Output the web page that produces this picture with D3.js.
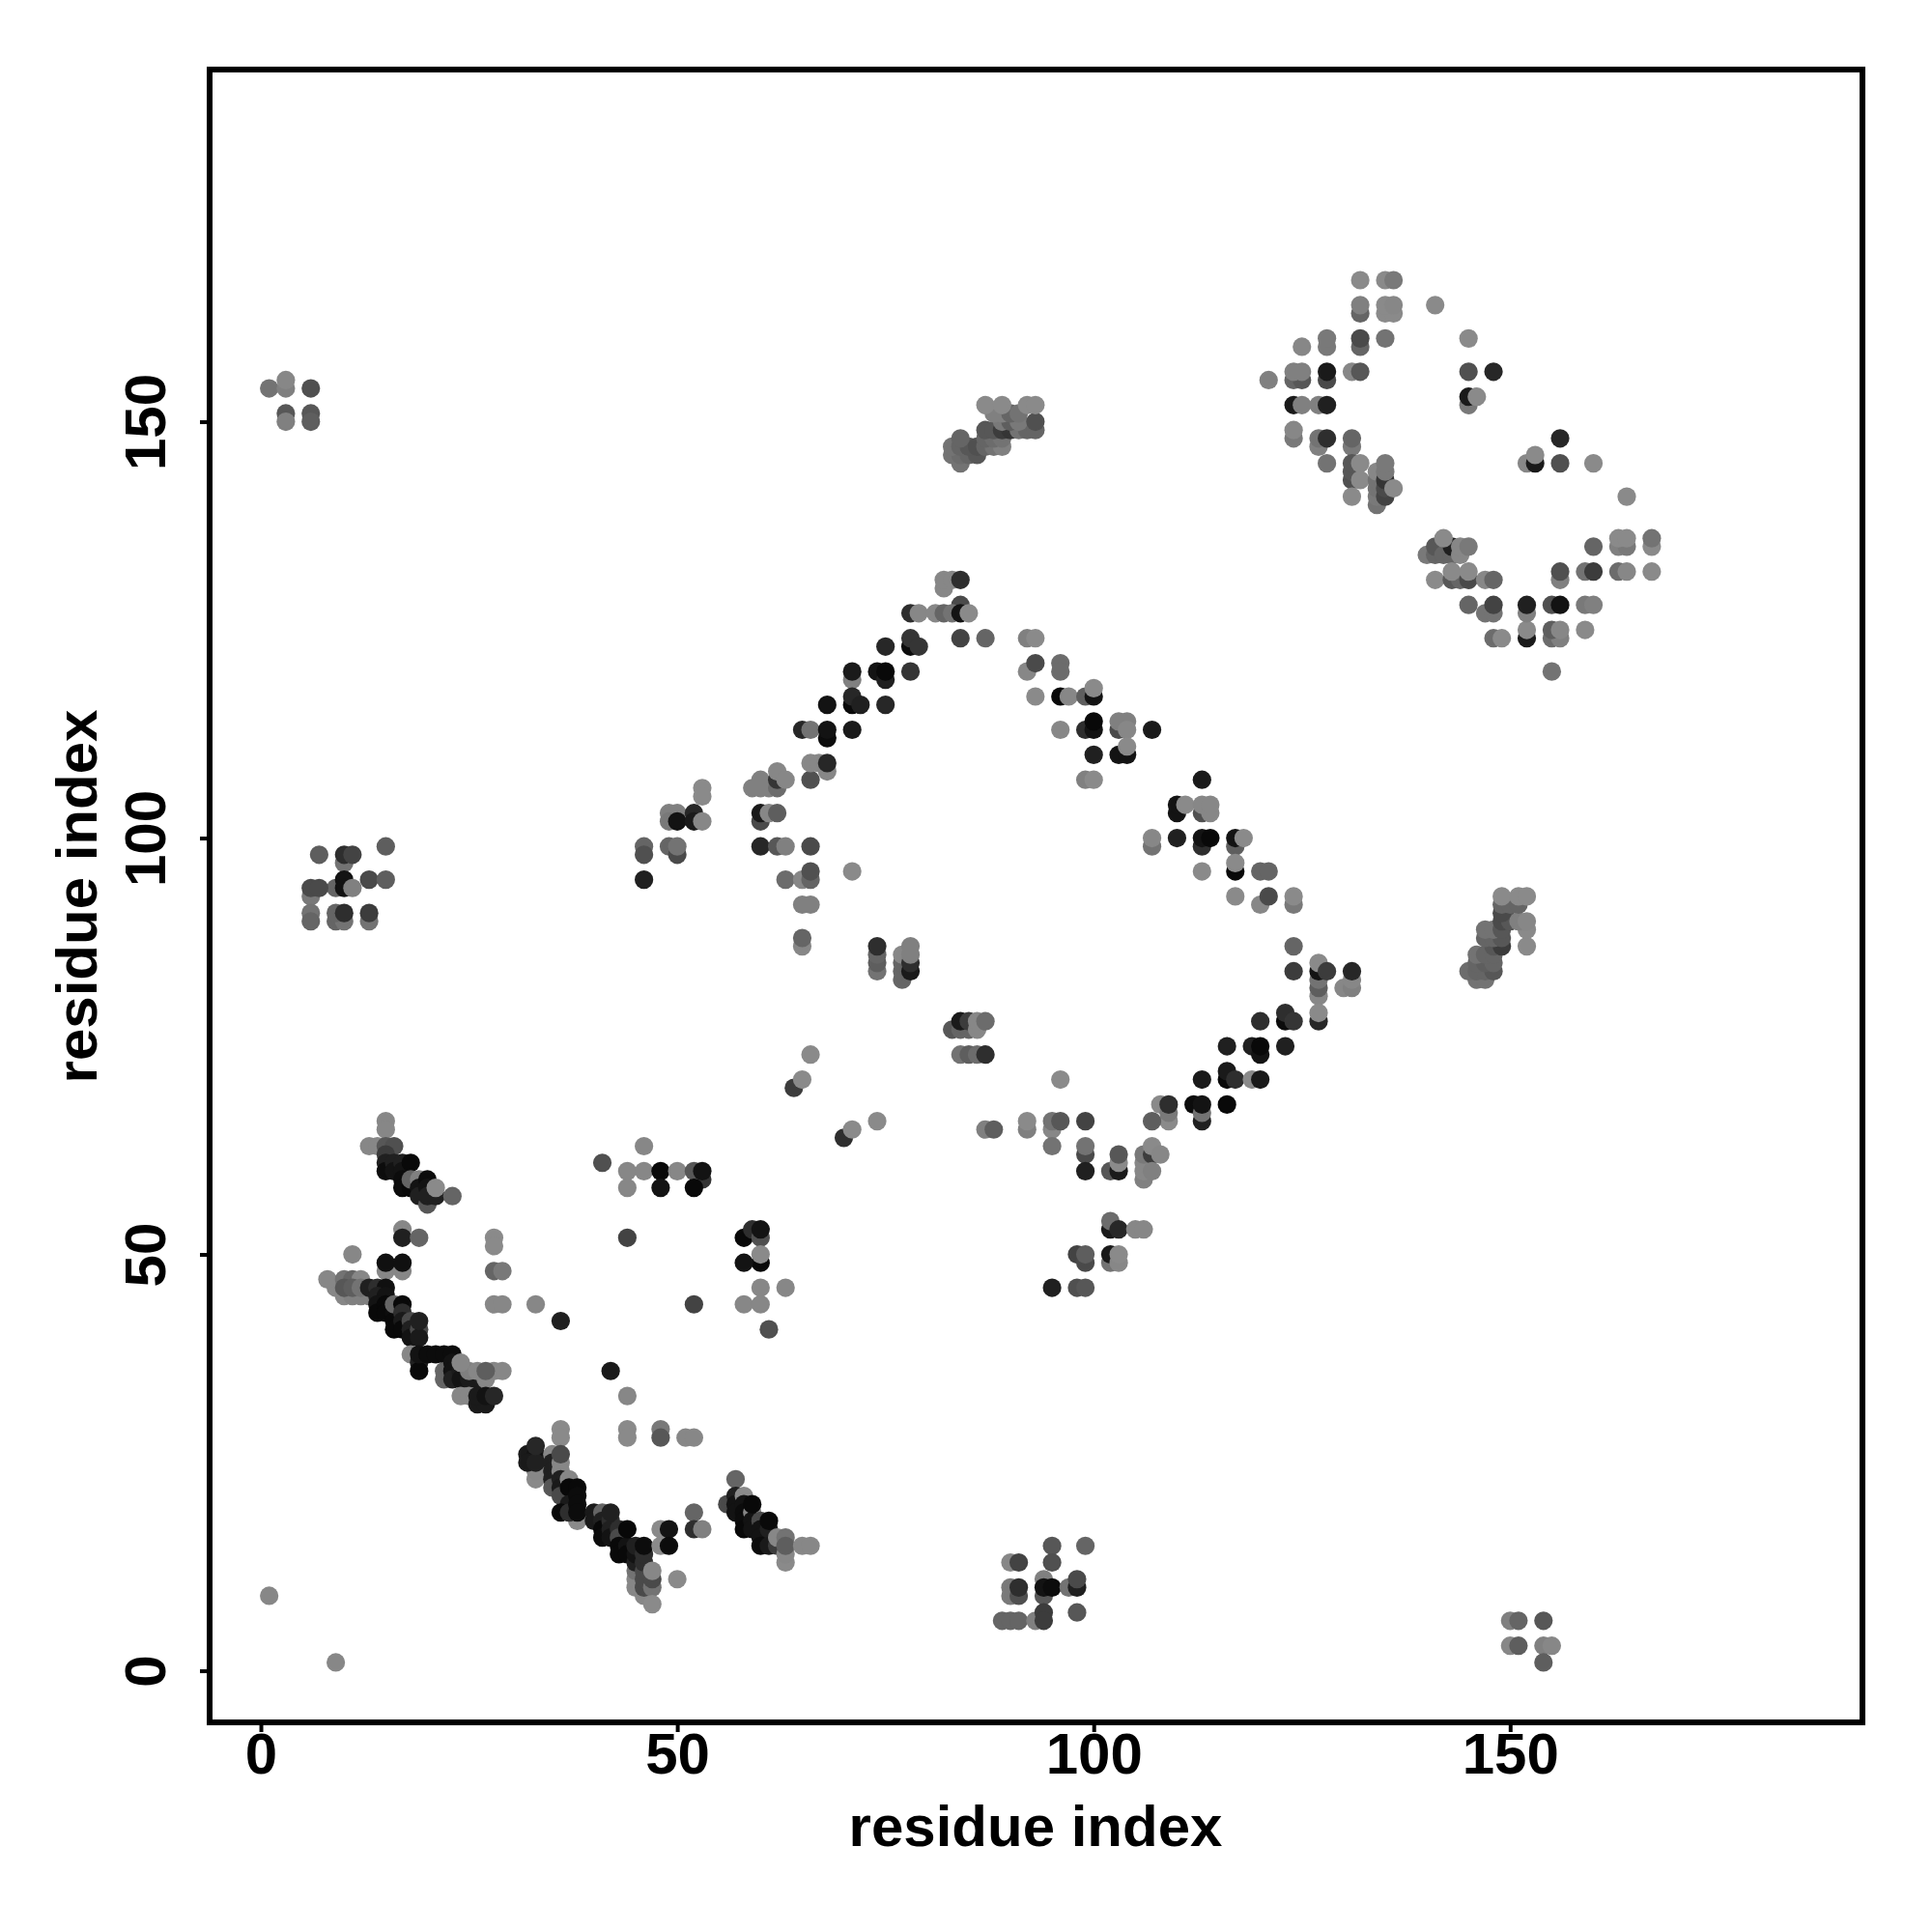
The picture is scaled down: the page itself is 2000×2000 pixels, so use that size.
<!DOCTYPE html>
<html><head><meta charset="utf-8">
<style>html,body{margin:0;padding:0;background:#fff}svg{display:block}text{font-family:"Liberation Sans",Arial,sans-serif;font-weight:bold;fill:#000}</style>
<script src="https://cdn.jsdelivr.net/npm/d3@7"></script>
</head><body><svg id="c" width="2000" height="2000"></svg>
<script>
// each contact: [residue i, residue j, strength 0..1]
const strandUpper=[[15,66,.05],[15,65,.05],[13,63,.05],[14,63,.05],[15,63,.4],[16,63,.45],[15,62,.6],[15,61,.8],[15,60,.95],[16,61,.8],[16,60,.9],[17,61,.8],[17,60,.9],[17,59,.95],[17,58,.95],[18,58,.97],[18,61,.97],[18,59,.3],[19,59,.1],[19,58,.9],[19,57,.8],[20,56,.4],[20,59,.95],[20,58,.9],[20,57,.8],[21,57,.8],[21,58,.03],[23,57,.3]];
const strandMiddle=[[17,53,.05],[17,52,.8],[19,52,.3],[11,50,.05],[15,48,.05],[17,48,.05],[15,49,.92],[17,49,.92],[9,46,.05],[8,47,.05],[10,45,.05],[11,45,.1],[12,45,.1],[13,45,.1],[10,47,.2],[11,47,.3],[12,47,.05],[10,46,.4],[11,46,.35],[12,46,.2],[13,46,.8],[14,46,.7],[15,46,.92],[14,45,.8],[15,45,.9],[14,44,.9],[14,43,.97],[15,44,.97],[15,43,.97],[16,43,.95],[16,42,.97],[16,41,.97],[16,44,.3],[17,44,.97],[17,43,.7],[17,42,.85],[17,41,.97],[18,42,.5],[18,41,.8],[18,40,.9],[19,41,.5],[19,40,.85],[19,42,.8]];
const strandLower=[[18,38,.05],[19,37,.8],[19,36,.97],[19,38,.9],[20,38,.95],[21,38,.95],[22,38,.95],[23,38,.95],[22,36,.3],[22,35,.3],[23,37,.9],[23,36,.9],[23,35,.8],[24,36,.85],[24,35,.9],[25,35,.85],[26,35,.85],[25,36,.1],[26,36,.05],[27,35,.05],[28,36,.05],[29,36,.05],[24,37,.05],[27,36,.35],[24,33,.05],[25,33,.05],[26,32,.85],[27,32,.85],[26,33,.85],[27,33,.9],[28,33,.75]];
const scatterLeft=[[28,52,.03],[28,51,.03],[28,48,.3],[29,48,.15],[28,44,.05],[29,44,.05],[33,44,.05],[36,42,.8],[41,61,.45],[44,60,.05],[46,60,.05],[46,63,.05],[44,58,.05],[48,60,.97],[50,60,.05],[48,58,.9],[53,59,.65],[52,60,.4],[52,58,.97],[53,60,.9],[44,52,.55],[58,52,.97],[59,53,.7],[60,52,.45],[60,53,.9],[60,49,.97],[58,49,.9],[60,50,.03],[60,46,.05],[63,46,.05],[58,44,.05],[60,44,.05],[52,44,.55],[61,41,.45],[42,36,.85],[44,33,.05],[44,29,.03],[44,28,.03]];
const bottomRun=[[36,29,.03],[36,28,.03],[48,29,.15],[48,28,.4],[51,28,.05],[52,28,.05],[33,23,.03],[33,24,.05],[32,26,.85],[33,26,.9],[32,25,.85],[33,25,.8],[33,27,.75],[35,26,.05],[35,25,.8],[35,24,.8],[35,23,.8],[35,22,.4],[36,25,.05],[36,24,.05],[36,26,.5],[36,23,.8],[36,22,.85],[36,21,.5],[37,23,.05],[37,22,.97],[37,20,.85],[38,18,.03],[36,19,.97],[37,19,.7],[38,22,.97],[38,21,.95],[38,20,.95],[38,19,.95],[40,19,.85],[40,18,.85],[41,19,.3],[41,18,.8],[41,17,.97],[41,16,.95],[42,18,.7],[42,17,.8],[42,16,.9],[42,19,.8],[43,17,.7],[43,16,.5],[43,15,.97],[43,14,.97],[44,15,.9],[44,14,.97],[44,17,.98],[45,10,.05],[45,11,.05],[45,12,.2],[45,13,.8],[45,14,.9],[45,15,.8],[46,9,.05],[46,10,.5],[46,11,.5],[46,12,.5],[46,13,.7],[46,14,.7],[46,15,.95],[47,10,.2],[47,11,.5],[47,12,.05],[47,8,.03],[50,11,.03],[48,17,.03],[49,17,.9],[48,15,.03],[49,15,.95],[52,19,.3],[52,17,.7],[53,17,.1]];
const bottomStrand=[[57,23,.3],[56,20,.5],[57,21,.8],[57,20,.9],[57,19,.9],[58,21,.03],[58,20,.9],[58,19,.95],[58,18,.95],[58,17,.97],[59,19,.05],[59,18,.9],[59,17,.9],[59,20,.97],[60,18,.5],[60,17,.9],[60,16,.9],[60,15,.95],[61,17,.8],[61,15,.85],[61,18,.97],[62,15,.6],[62,16,.05],[63,13,.03],[63,14,.05],[63,16,.2],[63,15,.35],[65,15,.05],[66,15,.05]];
const cluster10x10=[[90,13,.05],[91,13,.55],[95,15,.4],[95,13,.45],[99,15,.3],[90,10,.15],[90,9,.15],[91,9,.45],[91,10,.7],[94,9,.4],[94,11,.1],[94,10,.9],[95,10,.95],[97,10,.2],[98,10,.8],[98,11,.5],[98,7,.4],[89,6,.3],[90,6,.3],[91,6,.3],[93,6,.1],[94,7,.6],[94,6,.6]];
const cornerBits=[[1,9,.05],[9,1,.05],[150,6,.1],[151,6,.3],[154,6,.4],[150,3,.05],[151,3,.35],[154,3,.1],[155,3,.05],[154,1,.35],[1,154,.2],[3,154,.1],[3,155,.05],[6,154,.45],[3,151,.4],[3,150,.1],[6,151,.4],[6,150,.35]];
const clusterTop90=[[7,98,.35],[6,93,.15],[6,91,.2],[6,90,.3],[9,90,.3],[10,90,.2],[13,90,.2],[9,91,.3],[10,91,.7],[13,91,.6],[10,97,.2],[10,98,.7],[11,98,.55],[15,99,.35],[9,94,.3],[6,94,.5],[7,94,.5],[13,95,.5],[15,95,.35],[10,95,.9],[10,94,.9],[11,94,.1]];
const diagonalLow=[[53,106,.03],[53,105,.03],[49,103,.1],[50,103,.1],[49,102,.15],[50,102,.9],[52,103,.75],[52,102,.85],[53,102,.05],[59,106,.1],[60,106,.1],[61,106,.1],[62,106,.25],[60,107,.1],[62,107,.65],[62,108,.05],[63,107,.05],[66,107,.45],[66,109,.05],[67,109,.05],[68,108,.05],[68,109,.75],[60,102,.5],[60,103,.85],[61,103,.05],[62,103,.35],[46,99,.3],[46,98,.45],[46,95,.8],[49,99,.3],[50,98,.5],[50,99,.2],[60,99,.75],[62,99,.4],[63,99,.1],[66,99,.5],[63,95,.25],[65,95,.05],[66,95,.3],[66,96,.45],[71,96,.03],[65,92,.1],[66,92,.1],[65,87,.05],[65,88,.3],[74,84,.2],[74,85,.35],[74,86,.3],[74,87,.7],[77,83,.3],[77,84,.3],[77,85,.3],[77,86,.05],[78,84,.85],[78,85,.7],[78,86,.1],[78,87,.1],[83,77,.4],[84,77,.3],[85,77,.3],[84,78,.85],[85,78,.6],[86,77,.05],[86,78,.05],[87,78,.25],[84,74,.2],[85,74,.35],[86,74,.25],[87,74,.7],[66,74,.03],[64,70,.6],[65,71,.03],[70,64,.7],[71,65,.03],[74,66,.03],[87,65,.1],[88,65,.35]];
const diagonalPeak=[[82,130,.05],[82,131,.05],[83,131,.05],[84,131,.7],[84,128,.5],[78,127,.7],[79,127,.05],[81,127,.05],[82,127,.3],[83,127,.2],[84,127,.9],[85,127,.03],[84,124,.55],[87,124,.3],[92,124,.1],[93,124,.03],[78,123,.95],[78,124,.65],[79,123,.65],[75,123,.75],[71,119,.1],[71,120,.85],[74,120,.9],[75,119,.8],[75,120,.97],[78,120,.65],[71,116,.97],[71,117,.75],[72,116,.8],[68,116,.9],[75,116,.75],[65,113,.75],[66,113,.2],[68,112,.95],[68,113,.9],[71,113,.85]];
const diagonalRight=[[92,120,.05],[93,121,.5],[96,121,.25],[96,120,.25],[93,117,.03],[96,117,.97],[97,117,.05],[99,117,.35],[100,117,.9],[100,118,.03],[96,113,.05],[99,113,.7],[100,113,.9],[100,114,.97],[103,113,.5],[103,114,.1],[104,114,.1],[104,113,.05],[107,113,.85],[100,110,.8],[103,110,.9],[104,110,.9],[104,111,.03],[99,107,.1],[100,107,.03],[113,107,.85],[110,103,.9],[110,104,.9],[111,104,.03],[113,103,.45],[113,104,.05],[114,103,.05],[114,104,.05],[107,99,.2],[107,100,.05],[110,100,.8],[113,99,.7],[113,100,.9],[114,100,.97],[117,99,.35],[117,100,.9],[118,100,.03],[113,96,.03],[117,96,.97],[117,97,.03],[120,96,.3],[121,96,.3],[117,93,.03],[120,92,.05],[121,93,.5],[124,92,.15],[124,93,.03],[124,87,.3],[124,84,.6],[127,81,.05],[127,82,.35],[127,83,.2],[127,84,.9],[127,85,.03],[128,84,.6],[130,82,.05],[131,82,.1],[131,83,.05],[131,84,.75]];
const diagonalDown=[[120,78,.7],[123,78,.95],[123,79,.7],[124,78,.65],[127,78,.75],[127,79,.03],[116,75,.8],[119,75,.8],[120,74,.9],[120,75,.97],[123,75,.8],[113,71,.85],[116,71,.97],[116,72,.85],[117,71,.7],[119,71,.03],[120,71,.85],[96,71,.03],[108,68,.03],[109,66,.03],[109,67,.15],[109,68,.7],[107,66,.35],[112,68,.95],[113,66,.8],[113,67,.2],[113,68,.9],[116,68,.97],[92,65,.1],[92,66,.03],[95,65,.05],[95,66,.2],[96,66,.4],[99,66,.55],[95,63,.2],[99,62,.5],[99,63,.2],[99,60,.8],[102,60,.4],[103,60,.85],[103,61,.03],[103,62,.4],[106,59,.1],[106,60,.05],[106,61,.05],[106,62,.15],[107,62,.6],[107,60,.1],[107,63,.03],[108,62,.05],[102,53,.85],[102,54,.25],[103,53,.75],[105,53,.05],[106,53,.05],[98,50,.55],[99,49,.5],[99,50,.35],[102,49,.2],[102,50,.85],[103,49,.05],[103,50,.03],[95,46,.8],[98,46,.45],[99,46,.4]];
const helixTop=[[84,145,.2],[83,146,.2],[84,146,.25],[85,146,.3],[86,146,.4],[83,147,.2],[84,147,.3],[85,147,.4],[86,147,.45],[87,147,.3],[88,147,.2],[89,147,.1],[84,148,.3],[87,148,.3],[88,148,.25],[89,148,.2],[87,149,.4],[88,149,.4],[89,149,.6],[90,149,.65],[91,149,.2],[92,149,.3],[93,149,.3],[89,150,.15],[90,150,.35],[91,150,.15],[93,150,.45],[88,151,.1],[89,151,.1],[90,151,.3],[91,151,.2],[87,152,.03],[89,152,.03],[92,152,.03],[93,152,.03]];
const helixMid=[[146,83,.2],[147,83,.2],[145,84,.25],[146,84,.3],[147,84,.3],[148,84,.4],[146,85,.3],[147,85,.35],[148,85,.3],[146,86,.2],[147,86,.3],[148,86,.3],[148,87,.4],[149,87,.6],[152,87,.03],[147,88,.3],[148,88,.3],[149,88,.4],[147,89,.2],[148,89,.2],[149,89,.4],[152,89,.03],[149,90,.5],[150,90,.4],[151,90,.1],[152,90,.05],[149,91,.5],[149,92,.3],[150,92,.3],[151,92,.3],[149,93,.03],[151,93,.03],[152,93,.03]];
const upperRightA=[[132,167,.03],[135,167,.03],[136,167,.15],[132,163,.3],[132,164,.1],[135,163,.03],[136,163,.03],[135,164,.03],[136,164,.05],[141,164,.03],[128,159,.15],[128,160,.15],[125,159,.05],[132,159,.3],[132,160,.5],[135,160,.2],[145,160,.03],[121,155,.1],[124,155,.3],[125,155,.4],[124,156,.1],[125,156,.1],[128,155,.5],[128,156,.85],[131,156,.05],[132,156,.4],[145,156,.45],[148,156,.75],[145,152,.15],[145,153,.85],[146,153,.03],[124,152,.85],[125,152,.1],[127,152,.1],[128,152,.8],[124,148,.15],[124,149,.05],[127,147,.1],[127,148,.2],[128,148,.7],[131,147,.15],[131,148,.3],[128,145,.2],[131,143,.45],[131,144,.4],[131,145,.4],[132,145,.03],[132,143,.03],[131,141,.03],[134,140,.2],[134,141,.15],[134,142,.2],[134,143,.2],[134,144,.05],[135,141,.55],[135,142,.5],[135,143,.65],[135,144,.15],[135,145,.15],[136,142,.03],[152,145,.05],[153,145,.85],[153,146,.03],[156,148,.75],[156,145,.45],[160,145,.03],[164,141,.03]];
const upperRightB=[[140,134,.15],[141,134,.3],[141,135,.4],[142,134,.3],[143,134,.3],[143,135,.8],[142,136,.03],[144,134,.05],[144,135,.05],[145,135,.15],[141,131,.03],[143,131,.4],[144,131,.3],[145,131,.5],[143,132,.03],[145,132,.03],[147,131,.05],[148,131,.3],[145,128,.3],[147,127,.2],[148,127,.2],[148,128,.55],[148,124,.25],[149,124,.03],[152,124,.85],[152,125,.03],[152,127,.1],[152,128,.8],[155,124,.25],[156,124,.1],[155,125,.35],[156,125,.05],[155,128,.45],[156,128,.9],[159,128,.15],[160,128,.1],[159,125,.03],[155,120,.2],[156,131,.1],[156,132,.45],[159,132,.2],[160,132,.6],[163,132,.25],[164,132,.05],[167,132,.03],[160,135,.3],[163,135,.1],[164,135,.15],[163,136,.03],[164,136,.03],[167,135,.03],[167,136,.2]];
const xTickValues=[0,50,100,150];
const yTickValues=[0,50,100,150];
const axisLabel="residue index";

const contacts=[].concat(strandUpper,strandMiddle,strandLower,scatterLeft,bottomRun,bottomStrand,cluster10x10,cornerBits,clusterTop90,diagonalLow,diagonalPeak,diagonalRight,diagonalDown,helixTop,helixMid,upperRightA,upperRightB);

const svg=d3.select("#c");
const x=d3.scaleLinear().domain([-6.15,192.3]).range([217,1928]);
const y=d3.scaleLinear().domain([-6.2,192.29]).range([1783,72]);
const shade=d3.scaleLinear().domain([0,1]).range(["#8e8e8e","#050505"]);

svg.append("g").selectAll("circle").data(contacts).join("circle")
  .attr("cx",d=>x(d[0])).attr("cy",d=>y(d[1])).attr("r",9.6)
  .attr("fill",d=>shade(d[2]));

svg.append("rect").attr("x",217).attr("y",72).attr("width",1711).attr("height",1711)
  .attr("fill","none").attr("stroke","#000").attr("stroke-width",6);

const ax=svg.append("g").attr("transform","translate(0,1783)")
  .call(d3.axisBottom(x).tickValues(xTickValues).tickSize(10).tickPadding(0).tickFormat(d3.format("d")));
ax.select(".domain").remove();
ax.selectAll("line").attr("stroke-width",4);
ax.selectAll("text").style("font-size","60px");

const ay=svg.append("g").attr("transform","translate(217,0)")
  .call(d3.axisLeft(y).tickValues(yTickValues).tickSize(10).tickFormat(d3.format("d")));
ay.select(".domain").remove();
ay.selectAll("line").attr("stroke-width",4);
ay.selectAll("text").style("font-size","60px")
  .attr("x",null).attr("dy",null)
  .attr("text-anchor","middle")
  .attr("transform","translate(-46,0) rotate(-90)");

svg.append("text").attr("x",1072).attr("y",1911).attr("text-anchor","middle").style("font-size","60px").text(axisLabel);
svg.append("text").attr("text-anchor","middle").style("font-size","60px")
  .attr("transform","translate(100,928) rotate(-90)").text(axisLabel);
</script></body></html>
